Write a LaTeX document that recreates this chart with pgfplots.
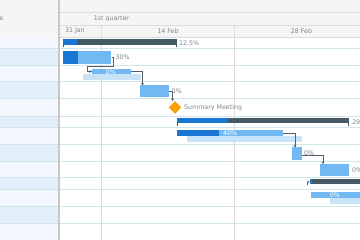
\documentclass[border=0pt]{standalone}
\usepackage{pgfplots}
\pgfplotsset{compat=1.18}
\usepackage{fontspec}
\setmainfont{DejaVu Sans}
\usetikzlibrary{arrows.meta}
\definecolor{summ}{HTML}{455A64}
\definecolor{prog}{HTML}{1976D2}
\definecolor{task}{HTML}{72B9F3}
\definecolor{base}{HTML}{C8E2F8}
\definecolor{mile}{HTML}{FFA000}
\definecolor{lbl}{HTML}{7C868E}
\definecolor{rowline}{HTML}{D2E5EC}
\definecolor{hdr}{HTML}{F5F5F5}
\definecolor{hdrline}{HTML}{DCDCDC}
\definecolor{oddrow}{HTML}{F2F8FD}
\definecolor{evenrow}{HTML}{E2EFFA}
\definecolor{conn}{HTML}{545F69}
% rectangle: x1 x2 (days since 31 Jan), y1 y2 (row position), colour
\newcommand{\rect}[5]{\addplot[fill=#5,draw=none] coordinates {(#1,#3) (#2,#3) (#2,#4) (#1,#4)} -- cycle;}
\newcommand{\rowline}[1]{\draw[rowline, line width=1pt] (axis cs:3.368,#1) -- (axis cs:41.263,#1);}
\newcommand{\lab}{\fontsize{6.3}{7}\selectfont}
\begin{document}
\begin{tikzpicture}
\begin{axis}[
  width=360pt, height=240pt, scale only axis,
  xmin=3.368, xmax=41.263, ymin=0, ymax=240, y dir=reverse,
  axis lines=none, clip=true,
]
% background
\fill[white] (axis cs:3.368,0) rectangle (axis cs:41.263,240);
% header
\fill[hdr] (axis cs:3.368,0) rectangle (axis cs:41.263,37);
\draw[hdrline, line width=0.8pt] (axis cs:9.684,12) -- (axis cs:41.263,12);
\draw[hdrline, line width=0.8pt] (axis cs:9.684,25) -- (axis cs:41.263,25);
\draw[hdrline, line width=0.8pt] (axis cs:3.368,37) -- (axis cs:41.263,37);
% data grid stripes
\fill[oddrow]  (axis cs:3.368,37)  rectangle (axis cs:9.474,49);
\fill[evenrow] (axis cs:3.368,49)  rectangle (axis cs:9.474,66);
\fill[oddrow]  (axis cs:3.368,66)  rectangle (axis cs:9.474,82);
\fill[evenrow] (axis cs:3.368,82)  rectangle (axis cs:9.474,99);
\fill[oddrow]  (axis cs:3.368,99)  rectangle (axis cs:9.474,117);
\fill[evenrow] (axis cs:3.368,117) rectangle (axis cs:9.474,128);
\fill[oddrow]  (axis cs:3.368,128) rectangle (axis cs:9.474,145);
\fill[evenrow] (axis cs:3.368,145) rectangle (axis cs:9.474,162);
\fill[oddrow]  (axis cs:3.368,162) rectangle (axis cs:9.474,178);
\fill[evenrow] (axis cs:3.368,178) rectangle (axis cs:9.474,190);
\fill[oddrow]  (axis cs:3.368,190) rectangle (axis cs:9.474,207);
\fill[evenrow] (axis cs:3.368,207) rectangle (axis cs:9.474,224);
\fill[oddrow]  (axis cs:3.368,224) rectangle (axis cs:9.474,240);
% row lines
\rowline{49}\rowline{66}\rowline{82}\rowline{99}\rowline{117}\rowline{128}
\rowline{145}\rowline{162}\rowline{178}\rowline{190}\rowline{207}\rowline{224}
% vertical lines
\draw[hdrline, line width=0.8pt] (axis cs:14,25) -- (axis cs:14,240);
\draw[hdrline, line width=0.8pt] (axis cs:28,25) -- (axis cs:28,240);
\draw[black!22, line width=1.6pt] (axis cs:9.579,0) -- (axis cs:9.579,240);
% header texts
\node[lbl, font=\lab] at (axis cs:15.1,18.5) {1st quarter};
\node[lbl, font=\lab, anchor=west] at (axis cs:9.84,31) {31 Jan};
\node[lbl, font=\lab] at (axis cs:21.05,31) {14 Feb};
\node[lbl, font=\lab] at (axis cs:35.1,31) {28 Feb};
\node[lbl, font=\lab, anchor=east, inner sep=0pt] at (axis cs:3.73,18.5) {Name};

% ---- tasks ----
% summary 1
\rect{10.0}{22.0}{39.5}{45}{summ}
\rect{10.0}{11.5}{39.5}{45}{prog}
\rect{10.0}{10.1}{45}{47.5}{summ}
\rect{21.9}{22.0}{45}{47.5}{summ}
% task 2
\rect{10.0}{15.1}{51.5}{64}{task}
\rect{10.0}{11.53}{51.5}{64}{prog}
% task 3 + baseline
\rect{12.1}{18.25}{74.5}{80}{base}
\rect{13.05}{17.2}{69}{74.5}{task}
% task 4
\rect{18.1}{21.15}{85.5}{97.5}{task}
% milestone
\addplot[fill=mile, draw=mile!85!black, line width=0.3pt] coordinates {(21.79,101.5) (22.42,107.5) (21.79,113.5) (21.16,107.5)} -- cycle;
% summary 6
\rect{22.03}{40.14}{118.5}{123.5}{summ}
\rect{22.03}{27.4}{118.5}{123.5}{prog}
\rect{22.03}{22.13}{123.5}{126}{summ}
\rect{40.04}{40.14}{123.5}{126}{summ}
% task 7 + baseline
\rect{23.08}{35.13}{136}{141.7}{base}
\rect{22.03}{33.13}{130.5}{136}{task}
\rect{22.03}{26.47}{130.5}{136}{prog}
% task 8
\rect{34.14}{35.13}{147.5}{160}{task}
% task 9
\rect{37.05}{40.14}{164}{176}{task}
% summary 10
\rect{35.95}{46}{179.5}{184.5}{summ}
\rect{35.95}{36.25}{179.5}{184.5}{prog}
% task 11 + baseline
\rect{38.1}{46}{198}{204}{base}
\rect{36.1}{46}{192.5}{198}{task}

% ---- connectors ----
\addplot[conn, line width=0.5pt, -{Stealth[length=2.6pt,width=3pt]}] coordinates {(15.105,57.5) (15.316,57.5) (15.316,66.7) (12.6,66.7) (12.6,71.5) (13.05,71.5)};
\addplot[conn, line width=0.5pt, -{Stealth[length=2.6pt,width=3pt]}] coordinates {(17.2,71.5) (18.37,71.5) (18.37,85.5)};
\addplot[conn, line width=0.5pt, -{Stealth[length=2.6pt,width=3pt]}] coordinates {(21.15,91.5) (21.53,91.5) (21.53,101)};
\addplot[conn, line width=0.5pt, -{Stealth[length=2.6pt,width=3pt]}] coordinates {(33.13,133) (34.42,133) (34.42,147.5)};
\addplot[conn, line width=0.5pt, -{Stealth[length=2.6pt,width=3pt]}] coordinates {(35.13,155) (37.37,155) (37.37,164)};
\addplot[conn, line width=0.5pt, -{Stealth[length=2.2pt,width=2.6pt]}] coordinates {(35.68,185.5) (35.68,181.8) (35.95,181.8)};

% ---- labels ----
\node[lbl, font=\lab, anchor=west, inner sep=1pt] at (axis cs:22.1,43) {12.5\%};
\node[lbl, font=\lab, anchor=west, inner sep=1pt] at (axis cs:15.4,57.5) {30\%};
\node[white, font=\lab] at (axis cs:15.05,71.8) {0\%};
\node[lbl, font=\lab, anchor=west, inner sep=1pt] at (axis cs:21.32,91.5) {0\%};
\node[lbl, font=\lab, anchor=west, inner sep=1pt] at (axis cs:22.63,108) {Summary Meeting};
\node[lbl, font=\lab, anchor=west, inner sep=1pt] at (axis cs:40.3,122) {29.6\%};
\node[white, font=\lab] at (axis cs:27.58,133.3) {40\%};
\node[lbl, font=\lab, anchor=west, inner sep=1pt] at (axis cs:35.26,153.5) {0\%};
\node[lbl, font=\lab, anchor=west, inner sep=1pt] at (axis cs:40.3,170) {0\%};
\node[white, font=\lab] at (axis cs:38.63,195.3) {0\%};
\end{axis}
\end{tikzpicture}
\end{document}
